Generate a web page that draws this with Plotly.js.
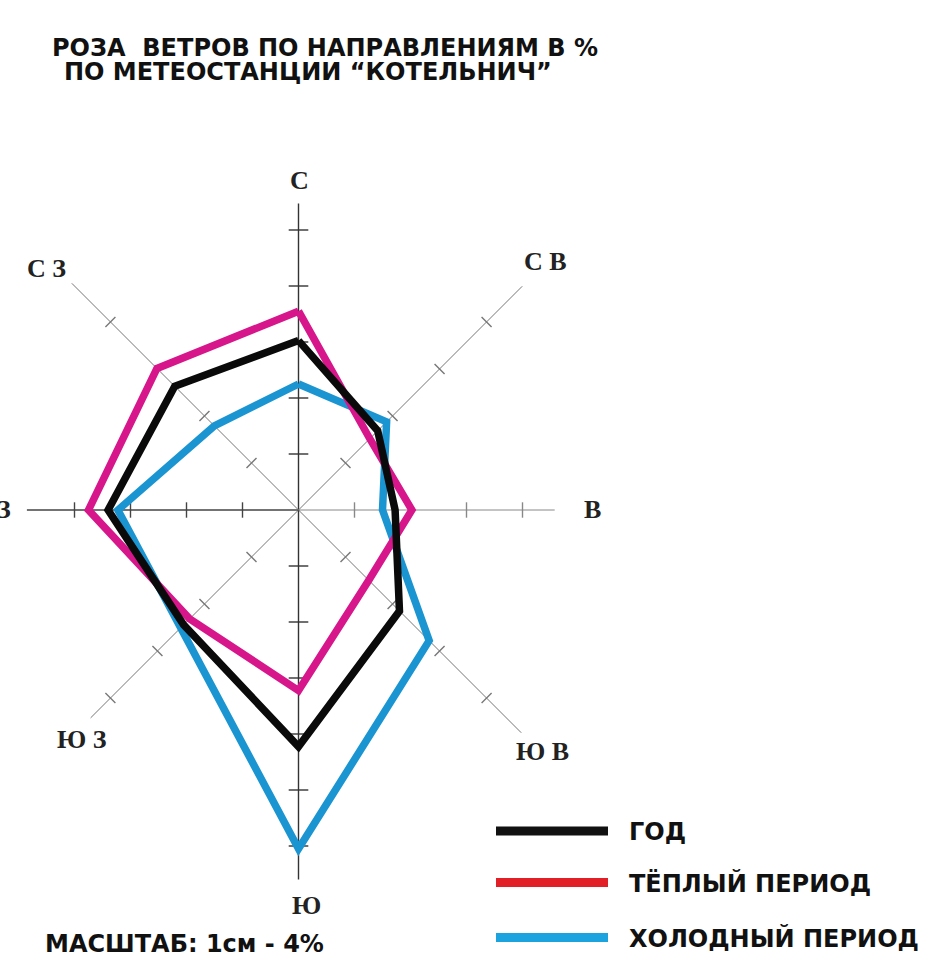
<!DOCTYPE html>
<html>
<head>
<meta charset="utf-8">
<script src="https://cdn.plot.ly/plotly-3.0.1.min.js"></script>
<style>
html, body { margin: 0; padding: 0; background: #ffffff; }
#chart { width: 928px; height: 964px; }
</style>
</head>
<body>
<div id="chart"></div>
<script>
// ---------------- DATA ----------------
const directions = ['С', 'С В', 'В', 'Ю В', 'Ю', 'Ю З', 'З', 'С З'];
const yearValues = [12.1, 8.0, 6.9, 10.2, 16.9, 11.6, 13.6, 12.5];   // ГОД, %
const warmValues = [14.2, 7.2, 8.1, 7.1, 12.9, 11.0, 15.0, 14.3];   // ТЁПЛЫЙ ПЕРИОД, %
const coldValues = [9.0, 8.9, 6.0, 13.2, 24.2, 11.9, 12.9, 8.5];    // ХОЛОДНЫЙ ПЕРИОД, %
const seriesNames = ['ГОД', 'ТЁПЛЫЙ ПЕРИОД', 'ХОЛОДНЫЙ ПЕРИОД'];
const titleLines = ['РОЗА  ВЕТРОВ ПО НАПРАВЛЕНИЯМ В %', 'ПО МЕТЕОСТАНЦИИ “КОТЕЛЬНИЧ”'];
const scaleNote = 'МАСШТАБ: 1см - 4%';

// ---------------- STYLE / LAYOUT ----------------
const W = 928, H = 964;
const CX = 298.5, CY = 510;        // centre of the rose in page pixels
const PX_PER_UNIT = 14;            // pixels per 1 %
const spokeLen = [21.9, 22.6, 18.3, 22.5, 26.4, 21.0, 19.4, 22.9];
const spokeColor = ['#333', '#777', '#888', '#777', '#333', '#777', '#444', '#777'];
const spokeWidth = [1.4, 1, 1, 1, 1.4, 1, 1.3, 1];
const tickCount = [5, 4, 4, 4, 6, 4, 4, 4];
const tickStep = [4, 4.75, 4, 4.75, 4, 4.75, 4, 4.75];
const tickSymbol = ['line-ew', 'line-nw', 'line-ns', 'line-ne', 'line-ew', 'line-nw', 'line-ns', 'line-ne'];
const tickSize = [14, 10, 11, 10, 14, 10, 11, 10];
const labelPx = [[299, 180], [545, 262], [592, 509], [542, 751], [306, 905], [82, 739], [4, 509], [46, 268]];
const lineColors = ['#0a0a0a', '#d6168a', '#1b95d2'];
const legendColors = ['#111111', '#e21f26', '#1ba3df'];
const legendY = [831, 882.5, 937.5];

const ang = i => i * Math.PI / 4;          // clockwise from north
const polar = (r, i) => [r * Math.sin(ang(i)), r * Math.cos(ang(i))];
const px2paperX = x => x / W;
const px2paperY = y => 1 - y / H;

// spokes as shapes
const shapes = [];
directions.forEach((d, i) => {
  const [x1, y1] = polar(spokeLen[i], i);
  shapes.push({type: 'line', xref: 'x', yref: 'y', x0: 0, y0: 0, x1: x1, y1: y1,
    line: {color: spokeColor[i], width: spokeWidth[i]}, layer: 'below'});
});

// legend swatches
legendColors.forEach((c, k) => {
  shapes.push({type: 'line', xref: 'paper', yref: 'paper',
    x0: px2paperX(496), x1: px2paperX(608), y0: px2paperY(legendY[k]), y1: px2paperY(legendY[k]),
    line: {color: c, width: 9}});
});

const traces = [];
// tick marks
directions.forEach((d, i) => {
  const xs = [], ys = [];
  for (let k = 1; k <= tickCount[i]; k++) {
    const [x, y] = polar(k * tickStep[i], i);
    xs.push(x); ys.push(y);
  }
  traces.push({type: 'scatter', mode: 'markers', x: xs, y: ys, hoverinfo: 'skip', showlegend: false,
    marker: {symbol: tickSymbol[i], size: tickSize[i], color: spokeColor[i],
             line: {color: spokeColor[i], width: 1.4}}});
});

// series polygons (drawn cold, warm, year so that year is on top)
const series = [yearValues, warmValues, coldValues];
[2, 1, 0].forEach(s => {
  const vals = series[s];
  const xs = [], ys = [];
  vals.concat([vals[0]]).forEach((v, j) => {
    const [x, y] = polar(v, j % vals.length);
    xs.push(x); ys.push(y);
  });
  traces.push({type: 'scatter', mode: 'lines', name: seriesNames[s], x: xs, y: ys,
    text: directions.concat([directions[0]]), hovertemplate: '%{text}<extra>' + seriesNames[s] + '</extra>',
    line: {color: lineColors[s], width: 7.5}, showlegend: false});
});

const annotations = [];
const sansFont = {family: 'DejaVu Sans, Arial, sans-serif', size: 24, color: '#111'};
annotations.push({xref: 'paper', yref: 'paper', x: px2paperX(50), y: px2paperY(48), xanchor: 'left', yanchor: 'middle',
  text: '<b>' + titleLines[0] + '</b>', showarrow: false, font: sansFont});
annotations.push({xref: 'paper', yref: 'paper', x: px2paperX(62), y: px2paperY(72), xanchor: 'left', yanchor: 'middle',
  text: '<b>' + titleLines[1] + '</b>', showarrow: false, font: sansFont});
directions.forEach((d, i) => {
  annotations.push({xref: 'paper', yref: 'paper', x: px2paperX(labelPx[i][0]), y: px2paperY(labelPx[i][1]),
    xanchor: 'center', yanchor: 'middle', text: '<b>' + d + '</b>', showarrow: false,
    font: {family: 'Liberation Serif, Times New Roman, serif', size: 26, color: '#222'}});
});
seriesNames.forEach((n, k) => {
  annotations.push({xref: 'paper', yref: 'paper', x: px2paperX(627), y: px2paperY(legendY[k] + 1), xanchor: 'left', yanchor: 'middle',
    text: '<b>' + n + '</b>', showarrow: false, font: sansFont});
});
annotations.push({xref: 'paper', yref: 'paper', x: px2paperX(43), y: px2paperY(944), xanchor: 'left', yanchor: 'middle',
  text: '<b>' + scaleNote + '</b>', showarrow: false, font: sansFont});

const layout = {
  width: W, height: H,
  margin: {l: 0, r: 0, t: 0, b: 0},
  paper_bgcolor: '#ffffff', plot_bgcolor: '#ffffff',
  showlegend: false,
  xaxis: {range: [-CX / PX_PER_UNIT, (W - CX) / PX_PER_UNIT], visible: false, fixedrange: true},
  yaxis: {range: [-(H - CY) / PX_PER_UNIT, CY / PX_PER_UNIT], visible: false, fixedrange: true},
  shapes: shapes,
  annotations: annotations
};

Plotly.newPlot('chart', traces, layout, {displayModeBar: false, staticPlot: true});
</script>
</body>
</html>
